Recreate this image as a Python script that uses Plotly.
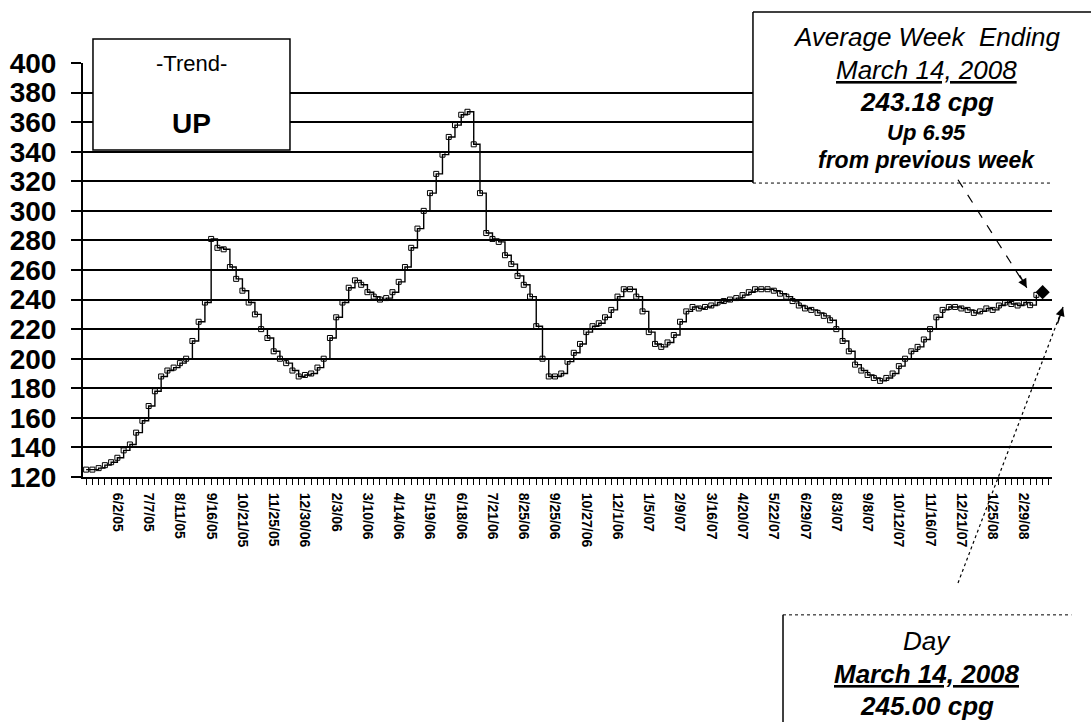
import plotly.graph_objects as go

# Weekly average retail gasoline price (cents per gallon), one value per week
weekly_avg = [
    125, 125, 126, 128, 130, 133, 138, 142, 150, 158,
    168, 178, 188, 192, 194, 197, 200, 212, 225, 238,
    281, 275, 274, 262, 254, 246, 238, 230, 220, 214,
    205, 200, 197, 192, 188, 189, 190, 194, 200, 214,
    228, 238, 248, 253, 250, 245, 242, 240, 241, 245,
    252, 262, 275, 288, 300, 312, 325, 338, 350, 358,
    365, 367, 345, 312, 285, 281, 279, 270, 264, 256,
    250, 242, 222, 200, 188, 188, 190, 198, 204, 210,
    218, 222, 224, 228, 233, 242, 247, 247, 242, 232,
    218, 210, 208, 211, 216, 225, 232, 235, 234, 235,
    236, 238, 239, 240, 241, 243, 245, 247, 247, 247,
    246, 244, 242, 239, 236, 234, 233, 231, 229, 226,
    220, 212, 205, 196, 192, 189, 187, 185, 187, 190,
    195, 200, 205, 208, 213, 220, 228, 233, 235, 235,
    234, 233, 231, 232, 234, 233, 236, 238, 237, 236,
    238, 236.23, 243.18,
]

# Single-day price for the latest date
day_price = 245.00

# Date labels shown every fifth week
tick_labels = [
    "6/2/05", "7/7/05", "8/11/05", "9/16/05", "10/21/05", "11/25/05",
    "12/30/06", "2/3/06", "3/10/06", "4/14/06", "5/19/06", "6/18/06",
    "7/21/06", "8/25/06", "9/25/06", "10/27/06", "12/1/06", "1/5/07",
    "2/9/07", "3/16/07", "4/20/07", "5/22/07", "6/29/07", "8/3/07",
    "9/8/07", "10/12/07", "11/16/07", "12/21/07", "1/25/08", "2/29/08",
]
tick_step = 5
y_ticks = list(range(120, 401, 20))

weeks = list(range(len(weekly_avg)))
tick_positions = [tick_step * (i + 1) for i in range(len(tick_labels))]

FONT = "Arial, 'Liberation Sans', sans-serif"

fig = go.Figure()

fig.add_trace(go.Scatter(
    x=weeks, y=weekly_avg,
    mode="lines+markers",
    line=dict(color="black", width=1.4, shape="hv"),
    marker=dict(symbol="square-open", size=5, color="black",
                line=dict(width=1)),
    showlegend=False, hoverinfo="skip",
))

fig.add_trace(go.Scatter(
    x=[len(weekly_avg)], y=[day_price],
    mode="markers",
    marker=dict(symbol="diamond", size=11, color="black"),
    showlegend=False, hoverinfo="skip",
))

fig.update_layout(
    width=1091, height=722, autosize=False,
    margin=dict(l=83, r=39, t=63, b=245),
    paper_bgcolor="white", plot_bgcolor="white",
    font=dict(family=FONT, color="black"),
)

fig.update_xaxes(
    range=[-0.5, 154.5],
    tickmode="array", tickvals=tick_positions, ticktext=tick_labels,
    tickangle=90,
    tickfont=dict(family=FONT, size=14, weight="bold", color="black"),
    ticks="outside", ticklen=6, tickwidth=1, tickcolor="black",
    ticklabelstandoff=5,
    minor=dict(dtick=1, tick0=0, ticks="outside", ticklen=6,
               tickwidth=1, tickcolor="black", showgrid=False),
    showgrid=False, zeroline=False, automargin=False,
    showline=True, linecolor="black", linewidth=2,
)

fig.update_yaxes(
    range=[120, 400],
    tickmode="array", tickvals=y_ticks,
    tickfont=dict(family=FONT, size=28, weight="bold", color="black"),
    ticks="outside", ticklen=10, tickwidth=2, tickcolor="black",
    ticklabelstandoff=9,
    showgrid=True, gridcolor="black", gridwidth=2,
    zeroline=False, automargin=False,
    showline=True, linecolor="black", linewidth=2,
)

# Trend box, upper left
fig.add_shape(type="rect", xref="paper", yref="paper",
              x0=0.0103, x1=0.2136, y0=0.790, y1=1.058,
              fillcolor="white", line=dict(color="black", width=1.5),
              layer="above")
fig.add_annotation(xref="paper", yref="paper", x=0.112, y=1.0,
                   text="-Trend-", showarrow=False,
                   font=dict(family=FONT, size=22, color="black"),
                   xanchor="center", yanchor="middle")
fig.add_annotation(xref="paper", yref="paper", x=0.112, y=0.855,
                   text="UP", showarrow=False,
                   font=dict(family=FONT, size=28, weight="bold", color="black"),
                   xanchor="center", yanchor="middle")

# Weekly average box, upper right
fig.add_shape(type="rect", xref="paper", yref="paper",
              x0=0.6914, x1=1.06, y0=0.710, y1=1.123,
              fillcolor="white", line=dict(width=0), layer="above")
fig.add_shape(type="line", xref="paper", yref="paper",
              x0=0.6914, x1=1.06, y0=1.123, y1=1.123,
              line=dict(color="black", width=1.5), layer="above")
fig.add_shape(type="line", xref="paper", yref="paper",
              x0=0.6914, x1=0.6914, y0=0.710, y1=1.123,
              line=dict(color="black", width=1.5), layer="above")
fig.add_shape(type="line", xref="paper", yref="paper",
              x0=0.6914, x1=1.0, y0=0.710, y1=0.710,
              line=dict(color="black", width=1, dash="dot"), layer="above")

box_x = 0.871
week_lines = [
    ("Average Week  Ending", 1.063, 26, "normal", "none"),
    ("March 14, 2008", 0.983, 26, "normal", "under"),
    ("243.18 cpg", 0.906, 26, "bold", "none"),
    ("Up 6.95", 0.833, 22, "bold", "none"),
    ("from previous week", 0.766, 23, "bold", "none"),
]
for text, yy, size, weight, deco in week_lines:
    fig.add_annotation(xref="paper", yref="paper", x=box_x, y=yy,
                       text=text, showarrow=False,
                       font=dict(family=FONT, size=size, weight=weight,
                                 style="italic", lineposition=deco,
                                 color="black"),
                       xanchor="center", yanchor="middle")

# Day box, lower right
fig.add_shape(type="line", xref="paper", yref="paper",
              x0=0.7224, x1=0.7224, y0=-0.62, y1=-0.333,
              line=dict(color="black", width=1.5))
fig.add_shape(type="line", xref="paper", yref="paper",
              x0=0.7224, x1=1.02, y0=-0.333, y1=-0.333,
              line=dict(color="black", width=1, dash="dot"))

day_lines = [
    ("Day", -0.395, 26, "normal", "none"),
    ("March 14, 2008", -0.475, 26, "bold", "under"),
    ("245.00 cpg", -0.553, 26, "bold", "none"),
]
for text, yy, size, weight, deco in day_lines:
    fig.add_annotation(xref="paper", yref="paper", x=box_x, y=yy,
                       text=text, showarrow=False,
                       font=dict(family=FONT, size=size, weight=weight,
                                 style="italic", lineposition=deco,
                                 color="black"),
                       xanchor="center", yanchor="middle")

# Pointer from the weekly box to the latest weekly value
fig.add_shape(type="line", xref="paper", yref="paper",
              x0=0.903, y0=0.718, x1=0.974, y1=0.457,
              line=dict(color="black", width=1.2, dash="dash"), layer="above")
fig.add_annotation(xref="paper", yref="paper", x=0.974, y=0.457,
                   ax=-8, ay=-14, text="", showarrow=True,
                   arrowhead=2, arrowsize=1.3, arrowwidth=1.4,
                   arrowcolor="black")

# Pointer from the day box to the day value
fig.add_shape(type="line", xref="paper", yref="paper",
              x0=0.903, y0=-0.256, x1=1.0114, y1=0.4106,
              line=dict(color="black", width=1.2, dash="dot"), layer="above")
fig.add_annotation(xref="paper", yref="paper", x=1.0114, y=0.4106,
                   ax=-6, ay=18, text="", showarrow=True,
                   arrowhead=2, arrowsize=1.3, arrowwidth=1.4,
                   arrowcolor="black")

fig.write_html("out.html")
